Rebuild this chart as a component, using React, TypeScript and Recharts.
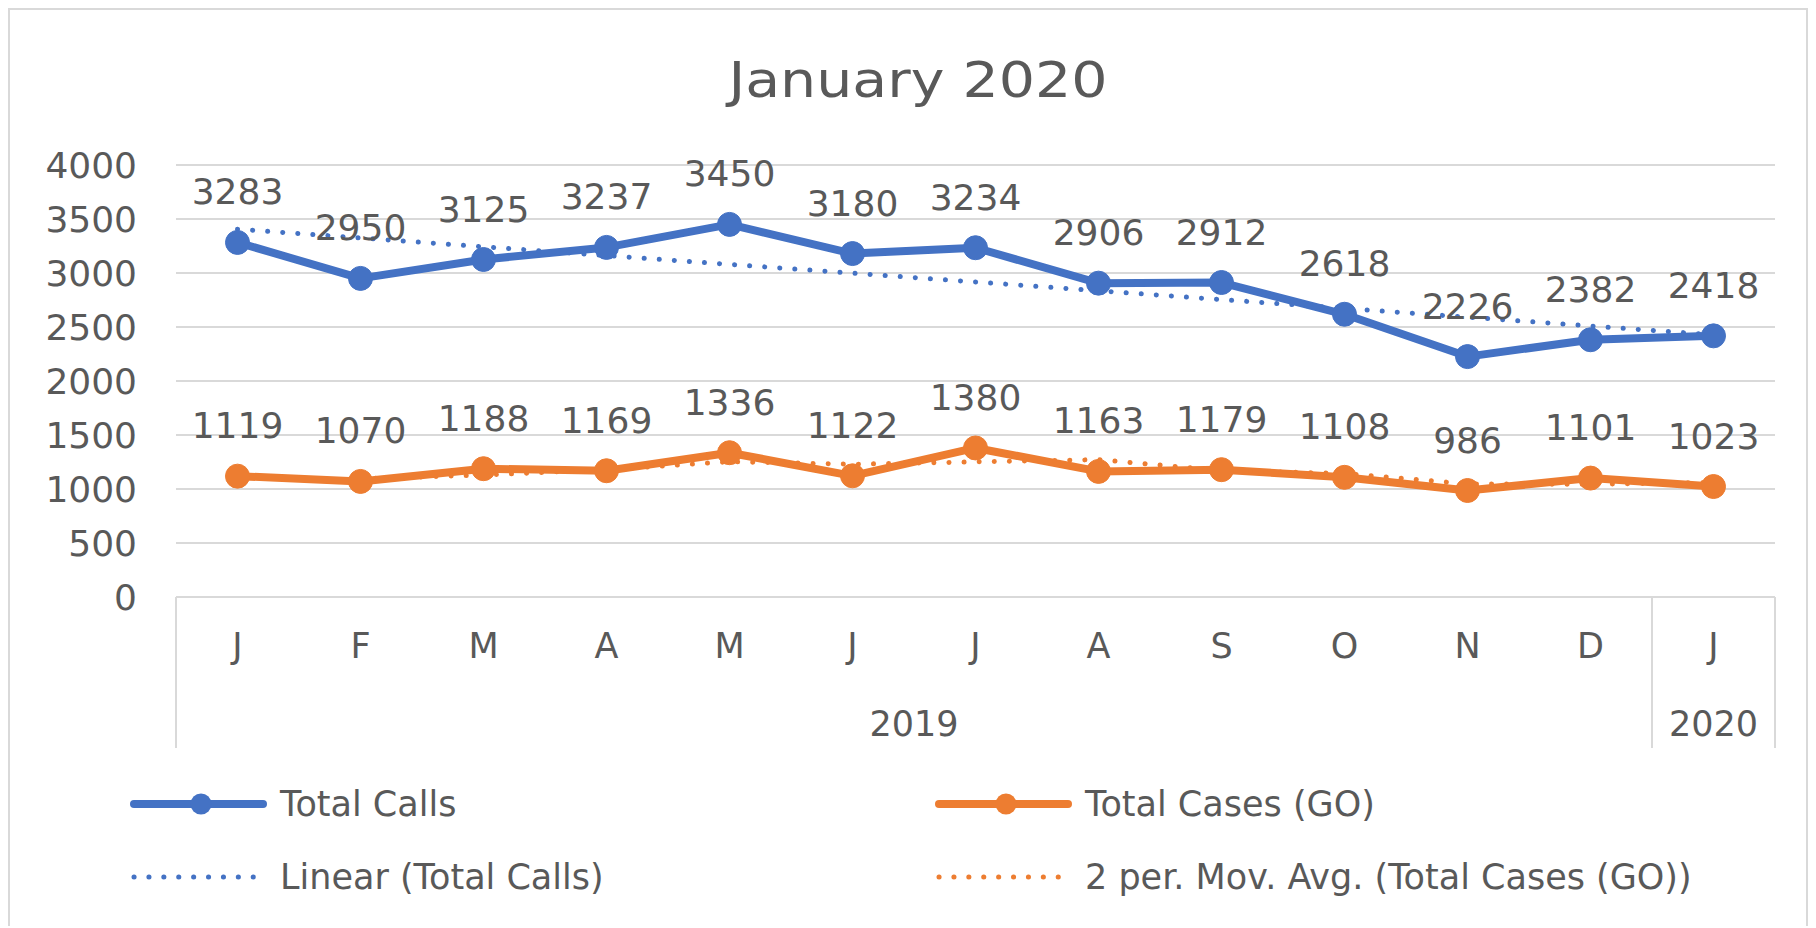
import React from 'react';
import { LineChart, Line, XAxis, YAxis, CartesianGrid, LabelList, Legend } from 'recharts';

// ---------- data ----------
const months = ['J', 'F', 'M', 'A', 'M', 'J', 'J', 'A', 'S', 'O', 'N', 'D', 'J'];
const years = ['2019', '2019', '2019', '2019', '2019', '2019', '2019', '2019', '2019', '2019', '2019', '2019', '2020'];
const totalCalls = [3283, 2950, 3125, 3237, 3450, 3180, 3234, 2906, 2912, 2618, 2226, 2382, 2418];
const totalCases = [1119, 1070, 1188, 1169, 1336, 1122, 1380, 1163, 1179, 1108, 986, 1101, 1023];
// linear trendline of Total Calls, value read at the first and at the last month
const callsTrendEnds = [3406, 2428];
// 2 period moving average of Total Cases (GO)
const casesMovAvg = [null, 1095, 1129, 1179, 1253, 1229, 1251, 1272, 1171, 1144, 1047, 1044, 1062];
const yTicks = [0, 500, 1000, 1500, 2000, 2500, 3000, 3500, 4000];
const title = 'January 2020';
const seriesNames = ['Total Calls', 'Total Cases (GO)', 'Linear (Total Calls)', '2 per. Mov. Avg. (Total Cases (GO))'];

// ---------- style ----------
const BLUE = '#4472C4';
const ORANGE = '#ED7D31';
const TEXT = '#595959';
const GRID = '#d9d9d9';
const FONT = '"DejaVu Sans", sans-serif';

const W = 1796;
const H = 916;
const PLOT_LEFT = 166;
const PLOT_RIGHT = 1765;
const PLOT_TOP = 155;
const X_AXIS_H = 151;
const LEGEND_H = 178;
const BAND = (PLOT_RIGHT - PLOT_LEFT) / months.length;

const data = months.map((m, i) => ({
  idx: i,
  month: m,
  year: years[i],
  calls: totalCalls[i],
  cases: totalCases[i],
  trend: i === 0 ? callsTrendEnds[0] : i === months.length - 1 ? callsTrendEnds[1] : null,
  mavg: casesMovAvg[i],
}));

const CategoryTick = (props: any) => {
  const { x, y, payload } = props;
  const i = payload.value as number;
  const half = BAND / 2;
  const yr = years[i];
  const isFirst = i === 0;
  const isLast = i === years.length - 1 || years[i + 1] !== yr;
  let groupCount = 0;
  let firstOfGroup = i;
  for (let k = 0; k < years.length; k++) {
    if (years[k] === yr) {
      groupCount++;
    }
  }
  while (firstOfGroup > 0 && years[firstOfGroup - 1] === yr) firstOfGroup--;
  const groupCenter = x - (i - firstOfGroup) * BAND + ((groupCount - 1) * BAND) / 2;
  return (
    <g>
      <text x={x} y={y + 61} textAnchor="middle" fill={TEXT} fontSize={35} fontFamily={FONT}>
        {months[i]}
      </text>
      {isFirst && <line x1={x - half} x2={x - half} y1={y} y2={y + X_AXIS_H} stroke={GRID} strokeWidth={2} />}
      {isLast && <line x1={x + half} x2={x + half} y1={y} y2={y + X_AXIS_H} stroke={GRID} strokeWidth={2} />}
      {isLast && (
        <text x={groupCenter} y={y + 138.5} textAnchor="middle" fill={TEXT} fontSize={35} fontFamily={FONT}>
          {yr}
        </text>
      )}
    </g>
  );
};

const makeLabel = (vals: number[]) => (props: any) => {
  const { x, y, index } = props;
  return (
    <text x={x} y={y - 38} textAnchor="middle" fill={TEXT} fontSize={36} fontFamily={FONT}>
      {vals[index]}
    </text>
  );
};

const LegendSwatch = ({ color, dotted }: { color: string; dotted: boolean }) => (
  <svg width={140} height={30} style={{ position: 'absolute', left: 0, top: -15 }}>
    {dotted ? (
      <line x1={4} x2={127} y1={15} y2={15} stroke={color} strokeWidth={5} strokeDasharray="0.1 14.8" strokeLinecap="round" />
    ) : (
      <g>
        <line x1={4} x2={133} y1={15} y2={15} stroke={color} strokeWidth={8} strokeLinecap="round" />
        <circle cx={71} cy={15} r={10.5} fill={color} />
      </g>
    )}
  </svg>
);

const legendItems = [
  { name: seriesNames[0], color: BLUE, dotted: false, left: 120, top: 56 },
  { name: seriesNames[1], color: ORANGE, dotted: false, left: 925, top: 56 },
  { name: seriesNames[2], color: BLUE, dotted: true, left: 120, top: 129 },
  { name: seriesNames[3], color: ORANGE, dotted: true, left: 925, top: 129 },
];

const LegendContent = () => (
  <div style={{ position: 'relative', width: PLOT_RIGHT, height: LEGEND_H, fontFamily: FONT, fontSize: 35, color: TEXT }}>
    {legendItems.map((it) => (
      <div key={it.name} style={{ position: 'absolute', left: it.left, top: it.top, height: 0 }}>
        <LegendSwatch color={it.color} dotted={it.dotted} />
        <div style={{ position: 'absolute', left: 150, top: -22, whiteSpace: 'nowrap', lineHeight: '44px', height: 44 }}>
          {it.name}
        </div>
      </div>
    ))}
  </div>
);

export default function App() {
  return (
    <div
      style={{
        position: 'absolute',
        left: 8,
        top: 8,
        width: W,
        height: H,
        borderTop: `2px solid ${GRID}`,
        borderLeft: `2px solid ${GRID}`,
        borderRight: `2px solid ${GRID}`,
        background: '#fff',
        overflow: 'hidden',
      }}
    >
      <LineChart
        width={W}
        height={H}
        data={data}
        margin={{ top: PLOT_TOP, right: W - PLOT_RIGHT, left: 0, bottom: 0 }}
      >
        <CartesianGrid vertical={false} stroke={GRID} strokeWidth={2} />
        <XAxis
          dataKey="idx"
          type="category"
          interval={0}
          height={X_AXIS_H}
          padding={{ left: BAND / 2, right: BAND / 2 }}
          tickLine={false}
          tickSize={0}
          tickMargin={0}
          axisLine={{ stroke: GRID, strokeWidth: 2 }}
          tick={<CategoryTick />}
        />
        <YAxis
          width={PLOT_LEFT}
          domain={[0, 4000]}
          ticks={yTicks}
          interval={0}
          axisLine={false}
          tickLine={false}
          tickSize={0}
          tickMargin={39}
          tick={{ fill: TEXT, fontSize: 36, fontFamily: FONT }}
        />
        <Legend verticalAlign="bottom" align="left" height={LEGEND_H} content={<LegendContent />} />
        <Line
          name={seriesNames[0]}
          dataKey="calls"
          stroke={BLUE}
          strokeWidth={8}
          strokeLinejoin="round"
          dot={{ r: 12, fill: BLUE, stroke: BLUE, strokeWidth: 1 }}
          activeDot={false}
          isAnimationActive={false}
        >
          <LabelList dataKey="calls" content={makeLabel(totalCalls)} />
        </Line>
        <Line
          name={seriesNames[1]}
          dataKey="cases"
          stroke={ORANGE}
          strokeWidth={8}
          strokeLinejoin="round"
          dot={{ r: 12, fill: ORANGE, stroke: ORANGE, strokeWidth: 1 }}
          activeDot={false}
          isAnimationActive={false}
        >
          <LabelList dataKey="cases" content={makeLabel(totalCases)} />
        </Line>
        <Line
          name={seriesNames[2]}
          dataKey="trend"
          connectNulls
          stroke={BLUE}
          strokeWidth={5}
          strokeDasharray="0.1 15"
          strokeLinecap="round"
          dot={false}
          activeDot={false}
          isAnimationActive={false}
        />
        <Line
          name={seriesNames[3]}
          dataKey="mavg"
          stroke={ORANGE}
          strokeWidth={5}
          strokeDasharray="0.1 15"
          strokeLinecap="round"
          dot={false}
          activeDot={false}
          isAnimationActive={false}
        />
      </LineChart>
      <svg width={W} height={120} style={{ position: 'absolute', left: 0, top: 0, pointerEvents: 'none' }}>
        <text
          x={0}
          y={87}
          textAnchor="middle"
          fill={TEXT}
          fontSize={50}
          fontFamily={FONT}
          transform={`translate(${908},0) scale(1.14,1)`}
        >
          {title}
        </text>
      </svg>
    </div>
  );
}
